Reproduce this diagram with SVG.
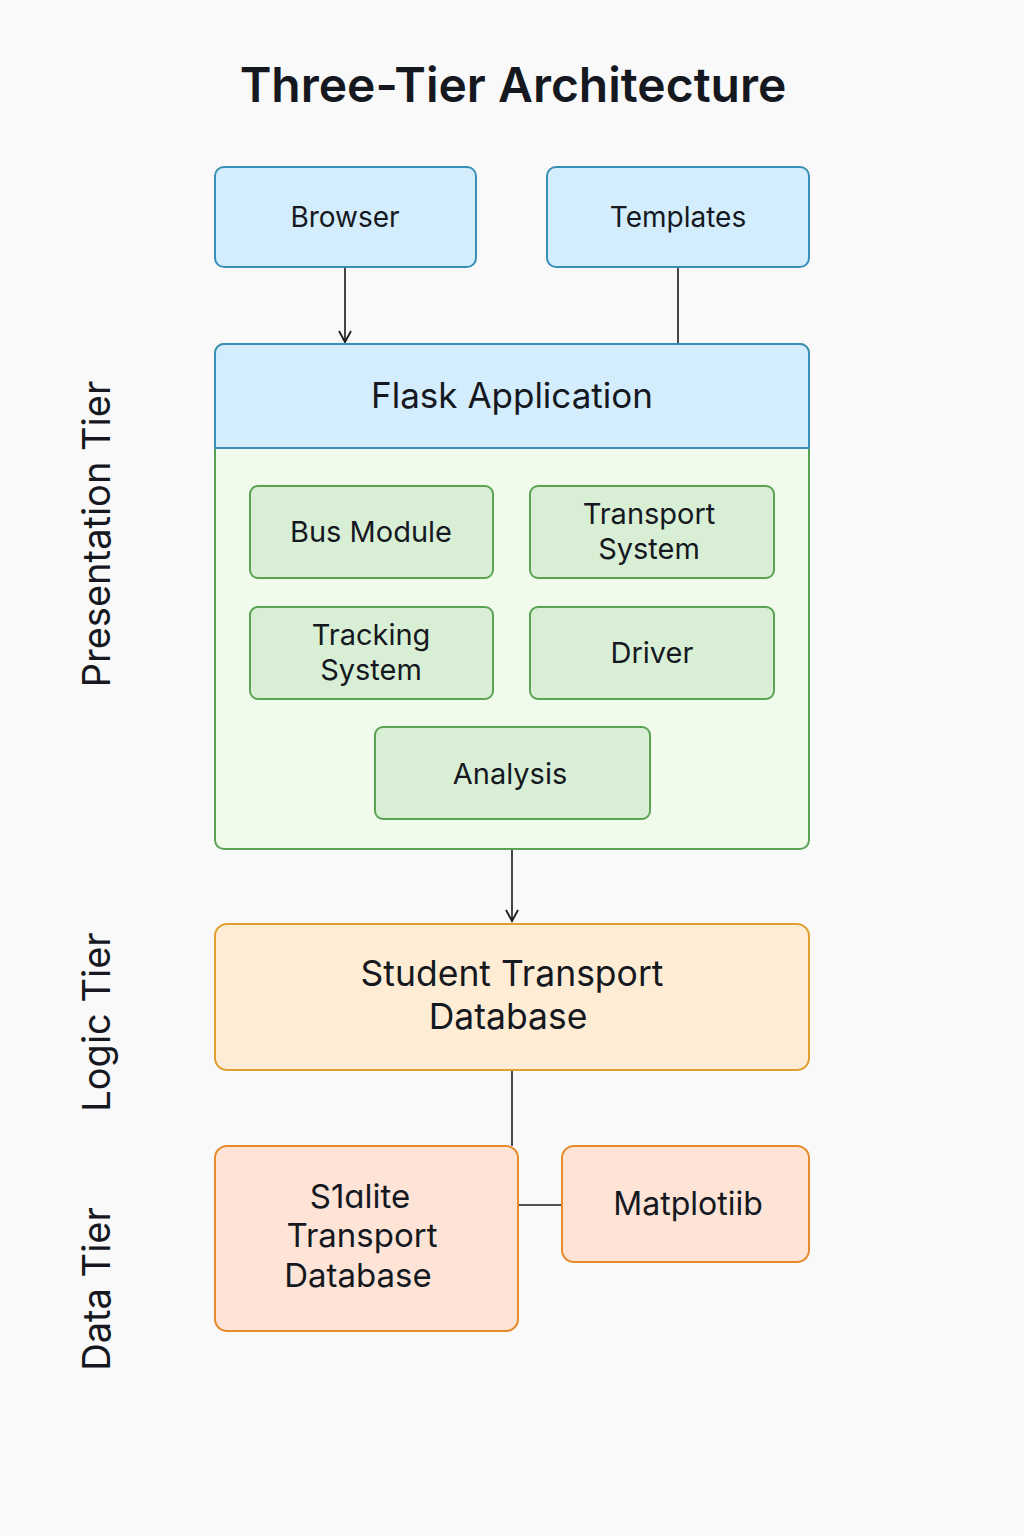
<svg xmlns="http://www.w3.org/2000/svg" width="1024" height="1536" viewBox="0 0 1024 1536">
<defs>
<style>
text{font-family:Inter,"Liberation Sans",sans-serif;fill:#15191f;text-anchor:middle}
.blue{fill:#d3edfc;stroke:#3a8fb7;stroke-width:2}
.green{fill:#d9efd5;stroke:#5aa352;stroke-width:2}
.orange{fill:#feedd4;stroke:#e0a030;stroke-width:2}
.salmon{fill:#fde4d7;stroke:#e8892b;stroke-width:2}
.conn{stroke:#1a1a1a;stroke-width:1.6;fill:none}
.tier{font-size:38px}
</style>
<marker id="arr" viewBox="0 0 14 14" refX="12" refY="7" markerWidth="14" markerHeight="14" markerUnits="userSpaceOnUse" orient="auto">
<path d="M1,1 L12,7 L1,13" fill="none" stroke="#1a1a1a" stroke-width="1.8"/>
</marker>
</defs>
<rect width="1024" height="1536" fill="#f9f9f9"/>
<text x="513" y="102" font-size="48" font-weight="600">Three-Tier Architecture</text>

<g id="tier-labels">
<text class="tier" transform="translate(110,534) rotate(-90)">Presentation Tier</text>
<text class="tier" transform="translate(110,1022) rotate(-90)">Logic Tier</text>
<text class="tier" transform="translate(110,1289) rotate(-90)">Data Tier</text>
</g>

<g id="connectors">
<line class="conn" x1="345" y1="268" x2="345" y2="342" marker-end="url(#arr)"/>
<line class="conn" x1="678" y1="268" x2="678" y2="344"/>
<line class="conn" x1="512" y1="850" x2="512" y2="921" marker-end="url(#arr)"/>
<line class="conn" x1="512" y1="1071" x2="512" y2="1146"/>
<line class="conn" x1="519" y1="1205" x2="562" y2="1205"/>
</g>

<g id="browser">
<rect class="blue" x="215" y="167" width="261" height="100" rx="9"/>
<text x="345" y="227" font-size="28">Browser</text>
</g>
<g id="templates">
<rect class="blue" x="547" y="167" width="262" height="100" rx="9"/>
<text x="678" y="227" font-size="28">Templates</text>
</g>

<g id="flask-application">
<rect x="215" y="344" width="594" height="505" rx="9" fill="#f0fbec" stroke="#5aa352" stroke-width="2"/>
<path d="M215,448 V353 A9,9 0 0 1 224,344 H800 A9,9 0 0 1 809,353 V448 Z" fill="#d3edfc" stroke="#3a8fb7" stroke-width="2"/>
<text x="512" y="408" font-size="35">Flask Application</text>
</g>

<g id="bus-module">
<rect class="green" x="250" y="486" width="243" height="92" rx="8"/>
<text x="371" y="542" font-size="29">Bus Module</text>
</g>
<g id="transport-system">
<rect class="green" x="530" y="486" width="244" height="92" rx="8"/>
<text x="649" y="524" font-size="29">Transport</text>
<text x="649" y="559" font-size="29">System</text>
</g>
<g id="tracking-system">
<rect class="green" x="250" y="607" width="243" height="92" rx="8"/>
<text x="371" y="645" font-size="29">Tracking</text>
<text x="371" y="680" font-size="29">System</text>
</g>
<g id="driver">
<rect class="green" x="530" y="607" width="244" height="92" rx="8"/>
<text x="652" y="663" font-size="29">Driver</text>
</g>
<g id="analysis">
<rect class="green" x="375" y="727" width="275" height="92" rx="8"/>
<text x="510" y="784" font-size="29">Analysis</text>
</g>

<g id="student-transport-database">
<rect class="orange" x="215" y="924" width="594" height="146" rx="12"/>
<text x="512" y="986" font-size="35.5">Student Transport</text>
<text x="508" y="1029" font-size="35.5">Database</text>
</g>

<g id="sqlite-transport-database">
<rect class="salmon" x="215" y="1146" width="303" height="185" rx="12"/>
<text x="360" y="1208" font-size="33">S1ɑlite</text>
<text x="362" y="1247" font-size="33">Transport</text>
<text x="358" y="1287" font-size="33">Database</text>
</g>

<g id="matplotlib">
<rect class="salmon" x="562" y="1146" width="247" height="116" rx="12"/>
<text x="688" y="1215" font-size="32">Matplotiib</text>
</g>
</svg>
